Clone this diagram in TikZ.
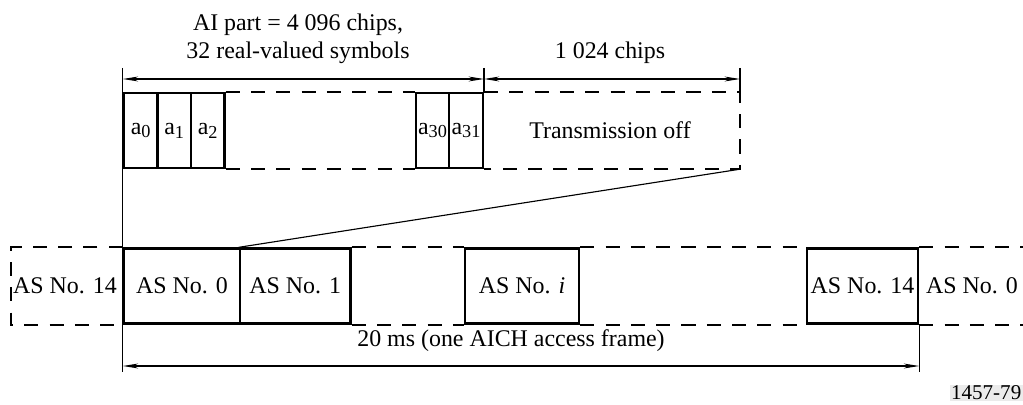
\documentclass[tikz,border=0pt]{standalone}
\usepackage{fontspec}
\setmainfont{Liberation Serif}
\usetikzlibrary{arrows.meta}

\tikzset{
  slot/.style={draw, line width=1.7pt, inner sep=0pt, minimum height=75*0.025cm},
  gap/.style={line width=1.7pt, dash pattern=on 10pt off 8pt},
  dim/.style={<->, line width=0.8pt},
  tick/.style={line width=0.8pt}
}
\newcommand{\sub}[1]{\raisebox{-0.35ex}{\fontsize{13}{13}\selectfont #1}}

\begin{document}
\begin{tikzpicture}[x=0.025cm, y=-0.025cm, >={Stealth[length=11pt,width=3.5pt]},
    font=\fontsize{17}{19.5}\selectfont]
        \useasboundingbox (0,0) rectangle (1023,405);

        % AI part symbols
        \node[slot, minimum width=33.5*0.025cm] (a0) at (140.75,130.5) {a\sub{0}};
        \node[slot, minimum width=33.5*0.025cm] (a1) at (174.25,130.5) {a\sub{1}};
        \node[slot, minimum width=33.5*0.025cm] (a2) at (207.75,130.5) {a\sub{2}};
        \node[slot, minimum width=33.5*0.025cm] (a30) at (432.5,130.5) {a\sub{30}};
        \node[slot, minimum width=33.5*0.025cm] (a31) at (466,130.5) {a\sub{31}};
        \draw[gap] (a2.north east) -- (a30.north west);
        \draw[gap] (a2.south east) -- (a30.south west);

        % transmission off part
        \coordinate (offend) at (740,0);
        \draw[gap] (a31.north east) -- (a31.north east -| offend) -- (a31.south east -| offend) -- (a31.south east);
        \node (offtxt) at (610,130) {Transmission off};

        % access slots
        \node[slot, minimum width=116*0.025cm] (as0) at (182,286) {AS No. 0};
        \node[slot, minimum width=110.5*0.025cm] (as1) at (295.25,286) {AS No. 1};
        \node[slot, minimum width=114*0.025cm] (asi) at (522,286) {AS No. \textit{i}};
        \node[slot, minimum width=111*0.025cm] (as14) at (862.5,286) {AS No. 14};
        \node (as14l) at (65,286) {AS No. 14};
        \node (as0r) at (972,286) {AS No. 0};

        \coordinate (leftend) at (11,0);
        \coordinate (rightend) at (1030,0);
        \draw[gap] (as0.north west) -- (as0.north west -| leftend) -- (as0.south west -| leftend) -- (as0.south west);
        \draw[gap] (as1.north east) -- (asi.north west);
        \draw[gap] (as1.south east) -- (asi.south west);
        \draw[gap] (asi.north east) -- (as14.north west);
        \draw[gap] (asi.south east) -- (as14.south west);
        \draw[gap] (as14.north east) -- (as14.north east -| rightend);
        \draw[gap] (as14.south east) -- (as14.south east -| rightend);

        % zoom line
        \draw[tick] (a31.south east -| offend) -- (as1.north west);

        % dimensions
        \coordinate (dimtop) at (0,68);
        \coordinate (dimy) at (0,79);
        \coordinate (dimbot) at (0,372);
        \coordinate (framey) at (0,366);
        \draw[tick] (a0.north west |- dimtop) -- (a0.north west |- dimbot);
        \draw[tick] (a31.north east |- dimtop) -- (a31.north east);
        \draw[tick] (offend |- dimtop) -- (a31.north east -| offend);
        \draw[tick] (as14.south east) -- (as14.south east |- dimbot);
        \draw[dim] (a0.north west |- dimy) -- (a31.north east |- dimy);
        \draw[dim] (a31.north east |- dimy) -- (offend |- dimy);
        \draw[dim] (as0.south west |- framey) -- (as14.south east |- framey);

        % labels
        \node[align=center] (aipart) at (298,39) {AI part = 4 096 chips,\\32 real-valued symbols};
        \node (offlen) at (610,53) {1 024 chips};
        \node (frame) at (511,341) {20 ms (one AICH access frame)};
        \node[fill=black!8, anchor=east, inner sep=1pt, font=\fontsize{15}{17}\selectfont] (figno) at (1023,393) {1457-79};
\end{tikzpicture}
\end{document}
